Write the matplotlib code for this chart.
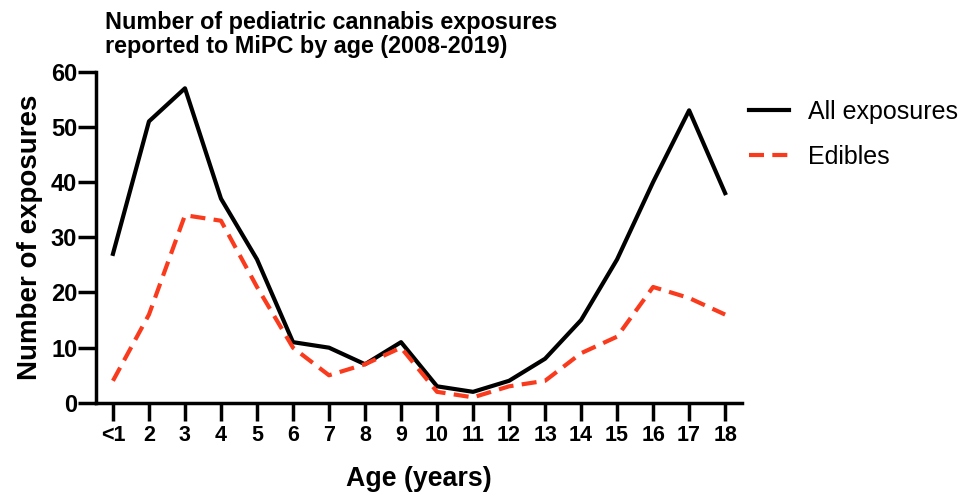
import matplotlib
matplotlib.use('Agg')
import matplotlib.pyplot as plt

plt.rcParams['font.family'] = ['Liberation Sans', 'DejaVu Sans']

ages = ['<1', '2', '3', '4', '5', '6', '7', '8', '9', '10', '11', '12', '13', '14', '15', '16', '17', '18']
all_exposures = [27, 51, 57, 37, 26, 11, 10, 7, 11, 3, 2, 4, 8, 15, 26, 40, 53, 38]
edibles = [4, 16, 34, 33, 21, 10, 5, 7, 10, 2, 1, 3, 4, 9, 12, 21, 19, 16]

fig = plt.figure(figsize=(9.7, 4.98), dpi=100)
ax = fig.add_axes([0.099, 0.191, 0.666, 0.665])

xs = range(len(ages))
ax.plot(xs, all_exposures, color='black', lw=3, label='All exposures')
ax.plot(xs, edibles, color='#fa3a1c', lw=3, ls=(0, (3.6, 2.0)), label='Edibles')

ax.set_xlim(-0.47, 17.47)
ax.set_ylim(0, 60)
ax.set_xticks(list(xs))
ax.set_xticklabels(ages)
ax.set_yticks(range(0, 61, 10))

for s in ['top', 'right']:
    ax.spines[s].set_visible(False)
for s in ['left', 'bottom']:
    ax.spines[s].set_linewidth(2.5)
ax.tick_params(axis='y', width=2.5, length=13, labelsize=17, pad=0.5)
ax.tick_params(axis='x', width=2.5, length=13, labelsize=15.5, pad=3)
for lab in ax.get_xticklabels() + ax.get_yticklabels():
    lab.set_fontweight('bold')

ax.set_xlabel('Age (years)', fontsize=19.3, fontweight='bold', labelpad=14)
ax.set_ylabel('Number of exposures', fontsize=20, fontweight='bold', labelpad=6)

fig.text(0.108, 0.978, 'Number of pediatric cannabis exposures\nreported to MiPC by age (2008-2019)',
         fontsize=16.8, fontweight='bold', ha='left', va='top', linespacing=1.05)

fig.legend(loc='upper left', bbox_to_anchor=(0.772, 0.80), frameon=False, fontsize=18,
           handlelength=1.6, handletextpad=0.75, labelspacing=0.85,
           borderpad=0, borderaxespad=0)

fig.savefig('out.png', dpi=100)
